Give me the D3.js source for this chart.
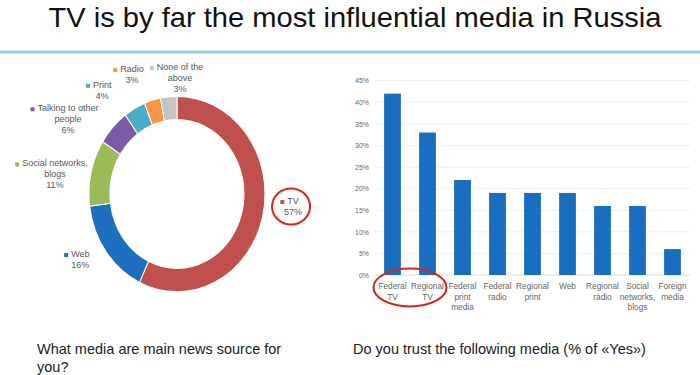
<!DOCTYPE html>
<html>
<head>
<meta charset="utf-8">
<script src="https://cdn.jsdelivr.net/npm/d3@7"></script>
<style>
  body { margin: 0; background: #fff; }
  text { font-family: "Liberation Sans", Arial, sans-serif; }
</style>
</head>
<body>
<div id="chart"></div>
<script>
// donut: main news source
var sourceNames = ['TV', 'Web', 'Social networks,|blogs', 'Talking to other|people', 'Print', 'Radio', 'None of the|above'];
var sourceValues = [57, 16, 11, 6, 4, 3, 3];
var sourceColors = ['#c0504d', '#1f6fc0', '#9bbb59', '#7b5ba6', '#4bacc6', '#f79646', '#c4c4c4'];

// bars: trust in media
var trustNames = ['Federal|TV', 'Regional|TV', 'Federal|print|media', 'Federal|radio', 'Regional|print', 'Web', 'Regional|radio', 'Social|networks,|blogs', 'Foreign|media'];
var trustValues = [42, 33, 22, 19, 19, 19, 16, 16, 6];
var trustTicks = [0, 5, 10, 15, 20, 25, 30, 35, 40, 45];

var width = 700, height = 375;

// label nudges off the outer centroid (layout only)
var labelNudge = [[-3, -17], [2, -14], [-3, 10], [-20, 18], [-16, 15], [-11, 10.5], [14.5, 19]];

var svg = d3.select('#chart').append('svg')
    .attr('width', width)
    .attr('height', height);

// title + rule
svg.append('text')
    .attr('x', 355).attr('y', 27)
    .attr('text-anchor', 'middle')
    .attr('font-size', 28)
    .attr('fill', '#111')
    .attr('textLength', 613)
    .attr('lengthAdjust', 'spacingAndGlyphs')
    .text('TV is by far the most influential media in Russia');

svg.append('line')
    .attr('x1', 0).attr('x2', width)
    .attr('y1', 52).attr('y2', 52)
    .attr('stroke', '#8ecbe0')
    .attr('stroke-width', 3);

// ---- donut ----
var cx = 177, cy = 194, sy = 1.11;
var pie = d3.pie().sort(null).value(function (d) { return d; });
var arcs = pie(sourceValues);
var arc = d3.arc().innerRadius(67).outerRadius(88);
var labelArc = d3.arc().innerRadius(122).outerRadius(122);

var donutG = svg.append('g')
    .attr('transform', 'translate(' + cx + ',' + cy + ') scale(1,' + sy + ')');

donutG.selectAll('path')
    .data(arcs)
    .enter()
    .append('path')
    .attr('d', arc)
    .attr('fill', function (d, i) { return sourceColors[i]; })
    .attr('stroke', '#fff')
    .attr('stroke-width', 1);

var labelG = svg.append('g');
arcs.forEach(function (d, i) {
    var c = labelArc.centroid(d);
    var lines = sourceNames[i].split('|').concat([sourceValues[i] + '%']);
    var lh = 11;
    var x = cx + c[0] + labelNudge[i][0];
    var y = cy + c[1] * sy + labelNudge[i][1] - (lines.length - 1) * lh / 2;
    var t = labelG.append('text')
        .attr('text-anchor', 'middle')
        .attr('font-size', 9)
        .attr('fill', '#595959');
    lines.forEach(function (l, j) {
        t.append('tspan')
            .attr('x', x)
            .attr('y', y + j * lh + 3)
            .text(l);
    });
    var w = t.select('tspan').node().getComputedTextLength();
    labelG.append('rect')
        .attr('x', x - w / 2 - 7)
        .attr('y', y - 1)
        .attr('width', 4).attr('height', 4)
        .attr('fill', sourceColors[i]);
    if (i === 0) {
        labelG.append('ellipse')
            .attr('cx', x - 2).attr('cy', y + lh / 2)
            .attr('rx', 19).attr('ry', 18)
            .attr('fill', 'none')
            .attr('stroke', '#d8231b')
            .attr('stroke-width', 2);
    }
});

// ---- bars ----
var xScale = d3.scaleBand()
    .domain(trustNames)
    .range([375, 690])
    .paddingInner(0.52)
    .paddingOuter(0.26);

var yScale = d3.scaleLinear()
    .domain([0, 45])
    .range([275, 80.7]);

var barG = svg.append('g');

barG.selectAll('.grid')
    .data(trustTicks)
    .enter()
    .append('line')
    .attr('x1', 375).attr('x2', 690)
    .attr('y1', function (d) { return yScale(d); })
    .attr('y2', function (d) { return yScale(d); })
    .attr('stroke', function (d) { return d === 0 ? '#d9d9d9' : '#ececec'; })
    .attr('stroke-width', 1);

var yAxis = d3.axisLeft(yScale)
    .tickValues(trustTicks)
    .tickSize(0)
    .tickPadding(3)
    .tickFormat(function (d) { return d + '%'; });

barG.append('g')
    .attr('transform', 'translate(372,0)')
    .call(yAxis)
    .call(function (g) { g.select('.domain').remove(); })
    .selectAll('text')
    .attr('font-size', 7)
    .attr('fill', '#666');

barG.selectAll('.bar')
    .data(trustValues)
    .enter()
    .append('rect')
    .attr('x', function (d, i) { return xScale(trustNames[i]); })
    .attr('y', function (d) { return yScale(d); })
    .attr('width', xScale.bandwidth())
    .attr('height', function (d) { return yScale(0) - yScale(d); })
    .attr('fill', '#1a6ebf');

trustNames.forEach(function (n, i) {
    var t = barG.append('text')
        .attr('text-anchor', 'middle')
        .attr('font-size', 8.3)
        .attr('fill', '#666');
    n.split('|').forEach(function (l, j) {
        t.append('tspan')
            .attr('x', xScale(n) + xScale.bandwidth() / 2)
            .attr('y', 289 + j * 10.7)
            .text(l);
    });
});

// highlight TV bars
barG.append('ellipse')
    .attr('cx', (xScale(trustNames[0]) + xScale(trustNames[1]) + xScale.bandwidth()) / 2)
    .attr('cy', 287.5)
    .attr('rx', 36.5).attr('ry', 19)
    .attr('fill', 'none')
    .attr('stroke', '#d8231b')
    .attr('stroke-width', 2);

// captions
svg.append('text')
    .attr('font-size', 14.5)
    .attr('fill', '#222')
    .selectAll('tspan')
    .data(['What media are main news source for', 'you?'])
    .enter()
    .append('tspan')
    .attr('x', 37)
    .attr('y', function (d, i) { return 354 + i * 18; })
    .text(function (d) { return d; });

svg.append('text')
    .attr('x', 353).attr('y', 354)
    .attr('font-size', 14.5)
    .attr('fill', '#222')
    .text('Do you trust the following media (% of «Yes»)');
</script>
</body>
</html>
